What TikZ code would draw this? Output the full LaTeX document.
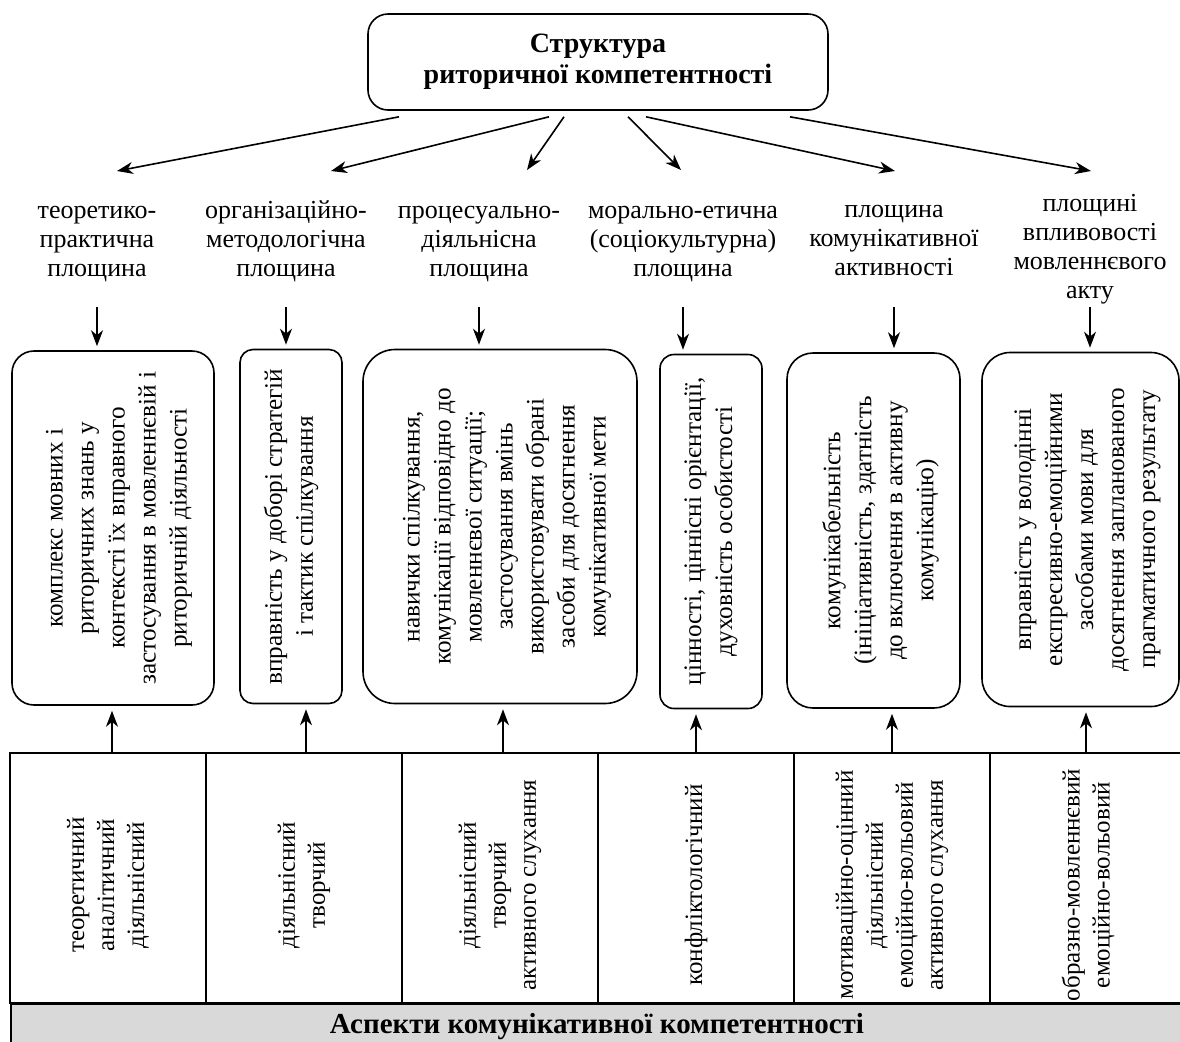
\documentclass[tikz,border=0pt]{standalone}
\usepackage{fontspec}
\setmainfont{Liberation Serif}
\usetikzlibrary{calc,arrows.meta}

\begin{document}
\begin{tikzpicture}[x=0.5pt, y=-0.5pt,
    plane/.style={align=center, font=\fontsize{13pt}{14.5pt}\selectfont},
    rbox/.style={draw, thick, rounded corners=#1, minimum height=177pt},
    vtext/.style={rotate=90, align=center, font=\fontsize{12.6pt}{15.5pt}\selectfont},
    cell/.style={draw, thick, minimum width=98pt, minimum height=125pt},
    ctext/.style={rotate=90, align=center, font=\fontsize{12.5pt}{15pt}\selectfont}]
    \useasboundingbox (0,0) rectangle (1180,1041);

    \node[draw, thick, rounded corners=10pt, minimum width=230pt, minimum height=48pt] (S) at (598,62) {};
        \node[align=center, font=\bfseries\fontsize{14pt}{15.5pt}\selectfont] at (S) {Структура\\риторичної компетентності};

    \node[plane] (P1) at (97,244) {теоретико-\\практична\\площина};
    \node[plane] (P2) at (286,241) {організаційно-\\методологічна\\площина};
    \node[plane] (P3) at (479,244) {процесуально-\\діяльнісна\\площина};
    \node[plane] (P4) at (683,244) {морально-етична\\(соціокультурна)\\площина};
    \node[plane] (P5) at (894,240) {площина\\комунікативної\\активності};
    \node[plane] (P6) at (1090,249) {площині\\впливовості\\мовленнєвого\\акту};

    \draw[thick, -{Stealth[length=8pt, width=6pt, inset=2.5pt]}] ($(S.south)+(-199,6)$) -- ($(P1)+(20,-73)$);
    \draw[thick, -{Stealth[length=8pt, width=6pt, inset=2.5pt]}] ($(S.south)+(-49,6)$) -- ($(P2)+(45,-70)$);
    \draw[thick, -{Stealth[length=8pt, width=6pt, inset=2.5pt]}] ($(S.south)+(-34,6)$) -- ($(P3)+(48,-74)$);
    \draw[thick, -{Stealth[length=8pt, width=6pt, inset=2.5pt]}] ($(S.south)+(30,6)$) -- ($(P4)+(-2,-74)$);
    \draw[thick, -{Stealth[length=8pt, width=6pt, inset=2.5pt]}] ($(S.south)+(48,6)$) -- ($(P5)+(1,-69)$);
    \draw[thick, -{Stealth[length=8pt, width=6pt, inset=2.5pt]}] ($(S.south)+(192,6)$) -- ($(P6)+(1,-78)$);

    \node[rbox=11pt, minimum width=101pt] (B1) at (113,528) {};
        \node[vtext] at ([xshift=3pt]B1.center) {комплекс мовних і\\риторичних знань у\\контексті їх вправного\\застосування в мовленнєвій і\\риторичній діяльності};
    \node[rbox=6.5pt, minimum width=51pt] (B2) at (291,526.5) {};
        \node[vtext] at (B2) {вправність у доборі стратегій\\і тактик спілкування};
    \node[rbox=16pt, minimum width=137pt] (B3) at (500,526.5) {};
        \node[vtext] at ([xshift=3.5pt]B3.center) {навички спілкування,\\комунікації відповідно до\\мовленнєвої ситуації;\\застосування вмінь\\використовувати обрані\\засоби для досягнення\\комунікативної мети};
    \node[rbox=7pt, minimum width=51pt] (B4) at (711,531.5) {};
        \node[vtext] at (B4) {цінності, ціннісні орієнтації,\\духовність особистості};
    \node[rbox=13pt, minimum width=86.5pt, minimum height=177.5pt] (B5) at (873.5,530.5) {};
        \node[vtext] at ([xshift=3.5pt]B5.center) {комунікабельність\\(ініціативність, здатність\\до включення в активну\\комунікацію)};
    \node[rbox=14pt, minimum width=98.5pt] (B6) at (1080.5,529.5) {};
        \node[vtext] at ([xshift=3.5pt]B6.center) {вправність у володінні\\експресивно-емоційними\\засобами мови для\\досягнення запланованого\\прагматичного результату};

    \draw[thick, -{Stealth[length=8pt, width=6pt, inset=2.5pt]}, shorten >=2pt] (P1 |- 0,307) -- (P1 |- B1.north);
    \draw[thick, -{Stealth[length=8pt, width=6pt, inset=2.5pt]}, shorten >=2pt] (P2 |- 0,307) -- (P2 |- B2.north);
    \draw[thick, -{Stealth[length=8pt, width=6pt, inset=2.5pt]}, shorten >=2pt] (P3 |- 0,307) -- (P3 |- B3.north);
    \draw[thick, -{Stealth[length=8pt, width=6pt, inset=2.5pt]}, shorten >=2pt] (P4 |- 0,307) -- (P4 |- B4.north);
    \draw[thick, -{Stealth[length=8pt, width=6pt, inset=2.5pt]}, shorten >=2pt] (P5 |- 0,307) -- (P5 |- B5.north);
    \draw[thick, -{Stealth[length=8pt, width=6pt, inset=2.5pt]}, shorten >=2pt] (P6 |- 0,307) -- (P6 |- B6.north);

    \node[cell] (C1) at (108,878) {};
        \node[ctext] at ([yshift=-3.5pt]C1.center) {теоретичний\\аналітичний\\діяльнісний};
    \node[cell] (C2) at (304,878) {};
        \node[ctext] at ([yshift=-3.5pt]C2.center) {діяльнісний\\творчий};
    \node[cell] (C3) at (500,878) {};
        \node[ctext] at ([yshift=-3.5pt]C3.center) {діяльнісний\\творчий\\активного слухання};
    \node[cell] (C4) at (696,878) {};
        \node[ctext] at ([yshift=-3.5pt]C4.center) {конфліктологічний};
    \node[cell] (C5) at (892,878) {};
        \node[ctext] at ([yshift=-3.5pt]C5.center) {мотиваційно-оцінний\\діяльнісний\\емоційно-вольовий\\активного слухання};
    \node[cell] (C6) at (1088,878) {};
        \node[ctext] at ([yshift=-3.5pt]C6.center) {образно-мовленнєвий\\емоційно-вольовий};

    \draw[thick, -{Stealth[length=8pt, width=6pt, inset=2.5pt]}, shorten >=2.5pt] ([xshift=2pt]C1.north) -- ([xshift=2pt]C1.north |- B1.south);
    \draw[thick, -{Stealth[length=8pt, width=6pt, inset=2.5pt]}, shorten >=2.5pt] ([xshift=1pt]C2.north) -- ([xshift=1pt]C2.north |- B2.south);
    \draw[thick, -{Stealth[length=8pt, width=6pt, inset=2.5pt]}, shorten >=2.5pt] ([xshift=1.5pt]C3.north) -- ([xshift=1.5pt]C3.north |- B3.south);
    \draw[thick, -{Stealth[length=8pt, width=6pt, inset=2.5pt]}, shorten >=2.5pt] (C4.north) -- (C4.north |- B4.south);
    \draw[thick, -{Stealth[length=8pt, width=6pt, inset=2.5pt]}, shorten >=2.5pt] (C5.north) -- (C5.north |- B5.south);
    \draw[thick, -{Stealth[length=8pt, width=6pt, inset=2.5pt]}, shorten >=2.5pt] ([xshift=-1pt]C6.north) -- ([xshift=-1pt]C6.north |- B6.south);

    \node[draw, thick, fill=gray!30, minimum width=588pt, minimum height=30pt, anchor=north west] (A) at (10,1003) {};
        \node[font=\bfseries\fontsize{14.5pt}{16pt}\selectfont] at (597,1027) {Аспекти комунікативної компетентності};
\end{tikzpicture}
\end{document}
